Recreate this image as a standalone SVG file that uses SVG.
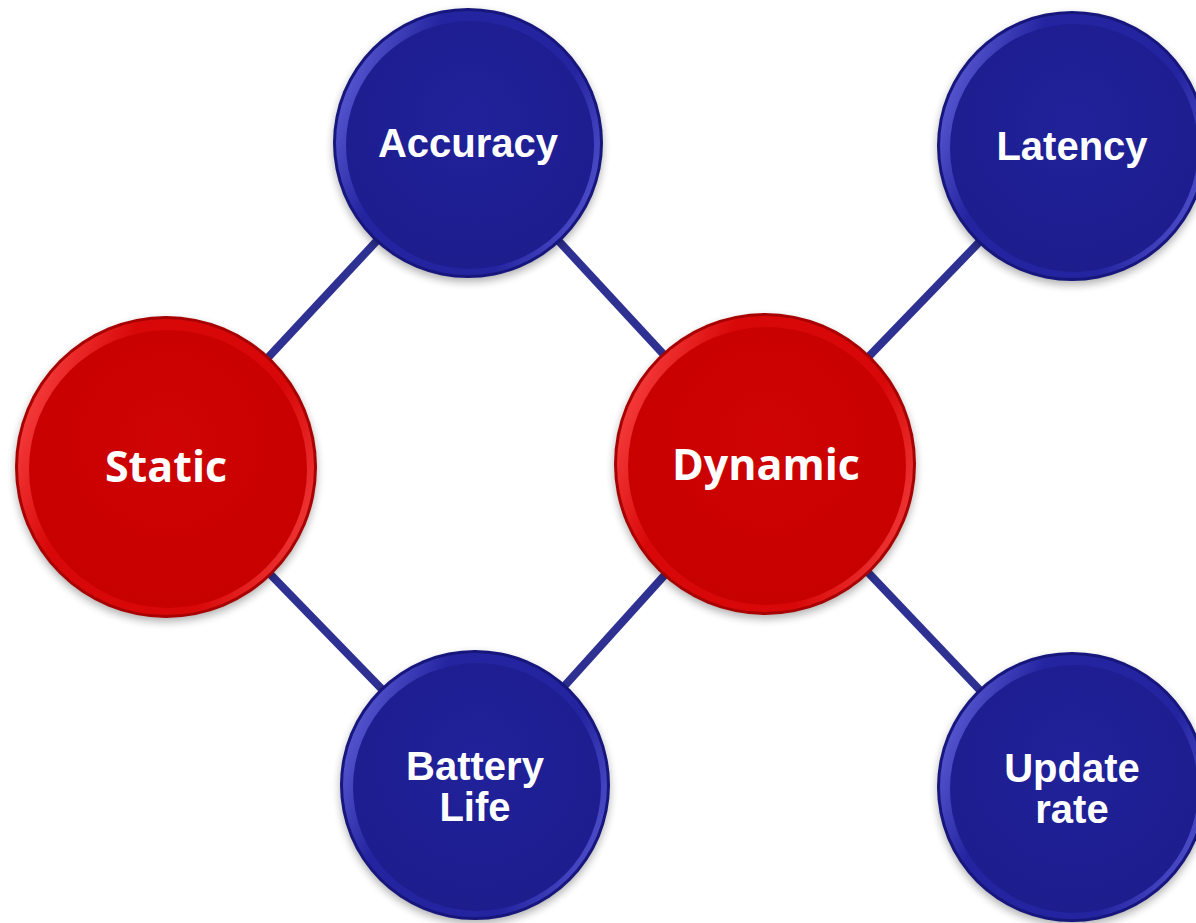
<svg xmlns="http://www.w3.org/2000/svg" width="1196" height="923" viewBox="0 0 1196 923">
<defs>
<filter id="sh" x="-20%" y="-20%" width="140%" height="140%"><feGaussianBlur stdDeviation="4"/></filter>
<linearGradient id="rimB" x1="0" y1="0.3" x2="1" y2="0.7"><stop offset="0" stop-color="#5a5ad4"/><stop offset="0.25" stop-color="#2424a0"/><stop offset="0.75" stop-color="#2424a0"/><stop offset="1" stop-color="#5050cc"/></linearGradient>
<linearGradient id="rimR" x1="0" y1="0.3" x2="1" y2="0.7"><stop offset="0" stop-color="#f84040"/><stop offset="0.25" stop-color="#d80808"/><stop offset="0.75" stop-color="#d80808"/><stop offset="1" stop-color="#f03838"/></linearGradient>
<radialGradient id="fB" cx="0.5" cy="0.4" r="0.6"><stop offset="0" stop-color="#21219a"/><stop offset="1" stop-color="#1d1d8e"/></radialGradient>
<radialGradient id="fR" cx="0.5" cy="0.4" r="0.6"><stop offset="0" stop-color="#cf0303"/><stop offset="1" stop-color="#c70000"/></radialGradient>
</defs>
<style>
.ln{stroke:#2e3191;stroke-width:8;fill:none}
.sh{fill:#000;opacity:0.3;filter:url(#sh)}
.ob{fill:#16167c}.rb{fill:url(#rimB)}.ib{fill:url(#fB)}
.or{fill:#a80000}.rr{fill:url(#rimR)}.ir{fill:url(#fR)}
.tb{font-family:"Liberation Sans",Arial,sans-serif;font-weight:bold;font-size:40px;fill:#fff;text-anchor:middle}
.tr{font-family:"Open Sans","Noto Sans",sans-serif;font-weight:bold;font-size:43px;fill:#fff;text-anchor:middle}
</style>
<g id="connectors">
<line class="ln" x1="166" y1="467" x2="468" y2="143"/>
<line class="ln" x1="166" y1="467" x2="475" y2="785"/>
<line class="ln" x1="765" y1="464" x2="468" y2="143"/>
<line class="ln" x1="765" y1="464" x2="1072" y2="146"/>
<line class="ln" x1="765" y1="464" x2="475" y2="785"/>
<line class="ln" x1="765" y1="464" x2="1072" y2="787"/>
</g>
<g id="accuracy">
<circle class="sh" cx="468" cy="147" r="135"/>
<circle class="ob" cx="468" cy="143" r="135"/>
<circle class="rb" cx="468" cy="143" r="132"/>
<circle class="ib" cx="470" cy="145" r="124"/>
<text class="tb" x="468" y="157">Accuracy</text>
</g>
<g id="latency">
<circle class="sh" cx="1072" cy="150" r="135"/>
<circle class="ob" cx="1072" cy="146" r="135"/>
<circle class="rb" cx="1072" cy="146" r="132"/>
<circle class="ib" cx="1074" cy="148" r="124"/>
<text class="tb" x="1072" y="160">Latency</text>
</g>
<g id="static">
<circle class="sh" cx="166" cy="471" r="151"/>
<circle class="or" cx="166" cy="467" r="151"/>
<circle class="rr" cx="166" cy="467" r="148"/>
<circle class="ir" cx="168" cy="469" r="139"/>
<text class="tr" x="166" y="482">Static</text>
</g>
<g id="dynamic">
<circle class="sh" cx="765" cy="468" r="151"/>
<circle class="or" cx="765" cy="464" r="151"/>
<circle class="rr" cx="765" cy="464" r="148"/>
<circle class="ir" cx="767" cy="466" r="139"/>
<text class="tr" x="766" y="480">Dynamic</text>
</g>
<g id="battery">
<circle class="sh" cx="475" cy="789" r="135"/>
<circle class="ob" cx="475" cy="785" r="135"/>
<circle class="rb" cx="475" cy="785" r="132"/>
<circle class="ib" cx="477" cy="787" r="124"/>
<text class="tb" x="475" y="780">Battery</text>
<text class="tb" x="475" y="821">Life</text>
</g>
<g id="update">
<circle class="sh" cx="1072" cy="791" r="135"/>
<circle class="ob" cx="1072" cy="787" r="135"/>
<circle class="rb" cx="1072" cy="787" r="132"/>
<circle class="ib" cx="1074" cy="789" r="124"/>
<text class="tb" x="1072" y="782">Update</text>
<text class="tb" x="1072" y="823">rate</text>
</g>
</svg>
